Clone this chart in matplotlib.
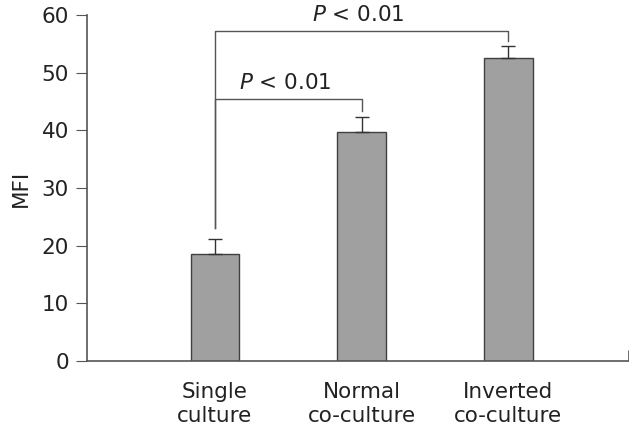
import matplotlib.pyplot as plt
import numpy as np

categories = ['Single\nculture', 'Normal\nco-culture', 'Inverted\nco-culture']
mfi = [18.5, 39.7, 52.5]
err = [2.6, 2.6, 2.1]

# significance brackets: (from, to, height, left drop end, right drop end, label)
brackets = [(0, 1, 45.4, 23.0, 43.4, '$P$ < 0.01'),
            (0, 2, 57.2, 23.0, 55.5, '$P$ < 0.01')]

FS = 15.5
axis_col = '#555555'
fig = plt.figure(figsize=(6.3, 4.33), dpi=100)
ax1 = fig.add_axes([0.138, 0.1663, 0.859, 0.799])

x = np.arange(len(categories))
ax1.bar(x, mfi, width=0.33, color='#a0a0a0', edgecolor='#404040', linewidth=1.0, zorder=2)
ax1.errorbar(x, mfi, yerr=[np.zeros(len(err)), err], fmt='none', ecolor='#333333',
             elinewidth=1.0, capsize=5, capthick=1.0, zorder=3)

for i0, i1, h, d0, d1, txt in brackets:
    ax1.plot([i0, i0, i1, i1], [d0, h, h, d1], color=axis_col, lw=1.0, zorder=1)
    ax1.text((i0 + i1) / 2 - 0.02, h + 1.1, txt, ha='center', va='bottom', fontsize=FS,
             color='#222222')

ax1.set_xlim(-0.871, 2.816)
ax1.set_ylim(0, 60)
ax1.set_yticks([0, 10, 20, 30, 40, 50, 60])
ax1.set_xticks(x)
ax1.set_xticklabels(categories, fontsize=FS, color='#222222', linespacing=1.25)
ax1.set_xticks([2.816], minor=True)
ax1.tick_params(axis='x', which='major', length=0, pad=15)
ax1.tick_params(axis='x', which='minor', direction='in', length=8, color=axis_col)
ax1.tick_params(axis='y', labelsize=FS, length=8, color=axis_col, labelcolor='#222222', pad=5)
ax1.set_ylabel('MFI', fontsize=FS, color='#222222', labelpad=8)
for s in ['top', 'right']:
    ax1.spines[s].set_visible(False)
for s in ['left', 'bottom']:
    ax1.spines[s].set_color(axis_col)
    ax1.spines[s].set_linewidth(1.2)

fig.savefig('out.png', dpi=100)
